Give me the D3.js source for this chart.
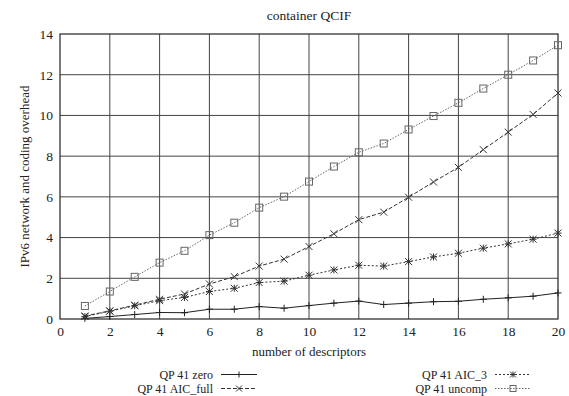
<!DOCTYPE html>
<html>
<head>
<meta charset="utf-8">
<script src="https://cdn.jsdelivr.net/npm/d3@7"></script>
<style>
  body { margin: 0; background: #fff; }
  svg text { font-family: "Liberation Serif", "Times New Roman", serif !important; fill: #222; }
</style>
</head>
<body>
<div id="container"></div>
<script>
/* DATA */
const descriptors = d3.range(1, 21);
const zero = [0.03, 0.12, 0.22, 0.32, 0.31, 0.48, 0.48, 0.61, 0.53, 0.66, 0.78, 0.88, 0.71, 0.78, 0.85, 0.87, 0.97, 1.04, 1.12, 1.28];
const aicFull = [0.15, 0.40, 0.68, 0.97, 1.23, 1.72, 2.08, 2.60, 2.94, 3.56, 4.19, 4.88, 5.25, 5.98, 6.73, 7.45, 8.32, 9.18, 10.05, 11.1];
const aic3 = [0.12, 0.38, 0.65, 0.90, 1.06, 1.35, 1.51, 1.79, 1.86, 2.15, 2.41, 2.64, 2.60, 2.82, 3.05, 3.23, 3.48, 3.69, 3.92, 4.22];
const uncomp = [0.64, 1.35, 2.07, 2.77, 3.35, 4.12, 4.73, 5.47, 6.01, 6.75, 7.49, 8.19, 8.62, 9.31, 9.97, 10.62, 11.32, 12.0, 12.7, 13.45];
const xTicks = d3.range(0, 21, 2);
const yTicks = d3.range(0, 15, 2);

/* CONSTANTS */
const width = 569, height = 396,
  margin = { top: 34, right: 11, bottom: 77, left: 60 };

const series = [
  { name: "QP 41 zero", values: zero, dash: null, color: "#222", marker: "plus" },
  { name: "QP 41 AIC_full", values: aicFull, dash: "4,2", color: "#333", marker: "cross" },
  { name: "QP 41 AIC_3", values: aic3, dash: "2,2", color: "#333", marker: "star" },
  { name: "QP 41 uncomp", values: uncomp, dash: "1.5,1.5", color: "#666", marker: "box" }
];

const svg = d3.select("#container")
  .append("svg")
  .attr("width", width)
  .attr("height", height);

// SCALES
const xScale = d3.scaleLinear()
  .domain([0, 20])
  .range([margin.left, width - margin.right]);

const yScale = d3.scaleLinear()
  .domain([0, 14])
  .range([height - margin.bottom, margin.top]);

// GRID
svg.append("g")
  .selectAll("line")
  .data(xTicks.slice(1, -1))
  .join("line")
  .attr("x1", d => xScale(d)).attr("x2", d => xScale(d))
  .attr("y1", yScale(0)).attr("y2", yScale(14))
  .attr("stroke", "#444").attr("stroke-width", 1);

svg.append("g")
  .selectAll("line")
  .data(yTicks.slice(1, -1))
  .join("line")
  .attr("x1", xScale(0)).attr("x2", xScale(20))
  .attr("y1", d => yScale(d)).attr("y2", d => yScale(d))
  .attr("stroke", "#444").attr("stroke-width", 1);

// FRAME
svg.append("rect")
  .attr("x", xScale(0))
  .attr("y", yScale(14))
  .attr("width", xScale(20) - xScale(0))
  .attr("height", yScale(0) - yScale(14))
  .attr("fill", "none")
  .attr("stroke", "#222")
  .attr("stroke-width", 1.2);

// AXES
const xAxis = d3.axisBottom(xScale).tickValues(xTicks).tickSize(0).tickPadding(7);
svg.append("g")
  .attr("transform", `translate(0, ${yScale(0)})`)
  .call(xAxis)
  .call(g => g.select(".domain").remove())
  .attr("font-family", null)
  .selectAll("text")
  .attr("font-size", 13.5);

const yAxis = d3.axisLeft(yScale).tickValues(yTicks).tickSize(0).tickPadding(7);
svg.append("g")
  .attr("transform", `translate(${xScale(0)}, 0)`)
  .call(yAxis)
  .call(g => g.select(".domain").remove())
  .attr("font-family", null)
  .selectAll("text")
  .attr("font-size", 13.5);

// TEXT
svg.append("text")
  .attr("x", (xScale(0) + xScale(20)) / 2)
  .attr("y", 20)
  .attr("font-size", 13.5)
  .style("text-anchor", "middle")
  .text("container QCIF");

svg.append("text")
  .attr("x", (xScale(0) + xScale(20)) / 2)
  .attr("y", 356)
  .attr("font-size", 13)
  .style("text-anchor", "middle")
  .text("number of descriptors");

svg.append("text")
  .attr("transform", `translate(29, ${(yScale(0) + yScale(14)) / 2}) rotate(-90)`)
  .attr("font-size", 13)
  .style("text-anchor", "middle")
  .text("IPv6 network and coding overhead");

// MARKERS
function drawMarker(g, type, x, y, color, s) {
  if (type === "plus" || type === "star") {
    g.append("line").attr("x1", x - s).attr("x2", x + s).attr("y1", y).attr("y2", y).attr("stroke", color);
    g.append("line").attr("x1", x).attr("x2", x).attr("y1", y - s).attr("y2", y + s).attr("stroke", color);
  }
  if (type === "cross" || type === "star") {
    g.append("line").attr("x1", x - s).attr("x2", x + s).attr("y1", y - s).attr("y2", y + s).attr("stroke", color);
    g.append("line").attr("x1", x - s).attr("x2", x + s).attr("y1", y + s).attr("y2", y - s).attr("stroke", color);
  }
  if (type === "box") {
    g.append("rect").attr("x", x - s).attr("y", y - s).attr("width", 2 * s).attr("height", 2 * s)
      .attr("fill", "none").attr("stroke", color);
  }
}

// LINES
const lineGen = d3.line()
  .x((d, i) => xScale(descriptors[i]))
  .y(d => yScale(d));

series.forEach(s => {
  const g = svg.append("g");
  g.append("path")
    .datum(s.values)
    .attr("d", lineGen)
    .attr("fill", "none")
    .attr("stroke", s.color)
    .attr("stroke-width", 1)
    .attr("stroke-dasharray", s.dash);
  s.values.forEach((v, i) => drawMarker(g, s.marker, xScale(descriptors[i]), yScale(v), s.color, 3.5));
});

// LEGEND
const legendPos = [
  { x: 213, y: 374.5 },
  { x: 213, y: 388.5 },
  { x: 487, y: 374.5 },
  { x: 487, y: 388.5 }
];

series.forEach((s, i) => {
  const p = legendPos[i];
  const g = svg.append("g");
  g.append("text")
    .attr("x", p.x)
    .attr("y", p.y + 4)
    .attr("font-size", 12)
    .style("text-anchor", "end")
    .text(s.name);
  g.append("line")
    .attr("x1", p.x + 8).attr("x2", p.x + 44)
    .attr("y1", p.y).attr("y2", p.y)
    .attr("stroke", s.color)
    .attr("stroke-dasharray", s.dash);
  drawMarker(g, s.marker, p.x + 26, p.y, s.color, 3);
});
</script>
</body>
</html>
